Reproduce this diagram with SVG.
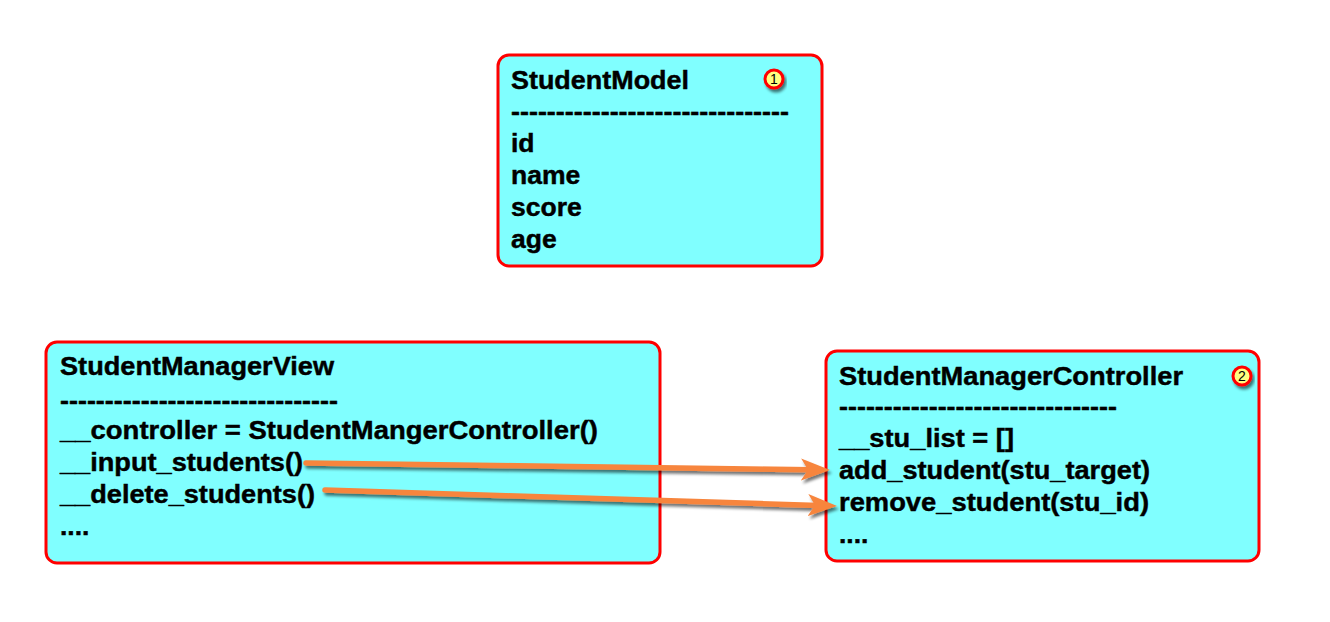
<svg xmlns="http://www.w3.org/2000/svg" width="1330" height="622" viewBox="0 0 1330 622">
<defs>
<style>
.box{fill:#80FFFF;stroke:#FF0000;stroke-width:3}
.t{font-family:"Liberation Sans",Arial,sans-serif;font-weight:bold;font-size:26.5px;fill:#000;stroke:#000;stroke-width:0.45}
.badge{fill:#FFFF80;stroke:#FF0000;stroke-width:3}
.bn{font-family:"Liberation Sans",Arial,sans-serif;font-size:14px;fill:#000;text-anchor:middle}
.arr{stroke:#F7853D;stroke-width:5.5;fill:none;stroke-linecap:round}
</style>
<filter id="sh" x="-20%" y="-50%" width="140%" height="200%">
<feGaussianBlur in="SourceAlpha" stdDeviation="1.8"/>
<feOffset dx="2" dy="3" result="b"/>
<feComponentTransfer><feFuncA type="linear" slope="0.55"/></feComponentTransfer>
<feMerge><feMergeNode/><feMergeNode in="SourceGraphic"/></feMerge>
</filter>
<marker id="ah" markerUnits="userSpaceOnUse" markerWidth="30" markerHeight="24" refX="10" refY="11" orient="auto" viewBox="0 0 30 22">
<path d="M0,0 L29,11 L0,22 L7,11 Z" fill="#F7853D"/>
</marker>
</defs>
<rect width="1330" height="622" fill="#FFFFFF"/>

<g id="StudentModel">
<rect class="box" x="498" y="55" width="324" height="211" rx="11"/>
<text class="t" x="511" y="89" textLength="178" lengthAdjust="spacingAndGlyphs">StudentModel</text>
<text class="t" x="511" y="120" textLength="278" lengthAdjust="spacingAndGlyphs">-------------------------------</text>
<text class="t" x="511" y="152">id</text>
<text class="t" x="511" y="184">name</text>
<text class="t" x="511" y="216">score</text>
<text class="t" x="511" y="248">age</text>
<g filter="url(#sh)"><circle class="badge" cx="774" cy="79" r="9"/></g>
<text class="bn" x="774" y="84">1</text>
</g>

<g id="StudentManagerView">
<rect class="box" x="46" y="342" width="614" height="221" rx="11"/>
<text class="t" x="60" y="375" textLength="274" lengthAdjust="spacingAndGlyphs">StudentManagerView</text>
<text class="t" x="60" y="409" textLength="278" lengthAdjust="spacingAndGlyphs">-------------------------------</text>
<text class="t" x="60" y="439" textLength="538" lengthAdjust="spacingAndGlyphs">__controller = StudentMangerController()</text>
<text class="t" x="60" y="471" textLength="243" lengthAdjust="spacingAndGlyphs">__input_students()</text>
<text class="t" x="60" y="503" textLength="255" lengthAdjust="spacingAndGlyphs">__delete_students()</text>
<text class="t" x="60" y="535">....</text>
</g>

<g id="StudentManagerController">
<rect class="box" x="826" y="351" width="433" height="210" rx="11"/>
<text class="t" x="839" y="385" textLength="344" lengthAdjust="spacingAndGlyphs">StudentManagerController</text>
<text class="t" x="839" y="415" textLength="278" lengthAdjust="spacingAndGlyphs">-------------------------------</text>
<text class="t" x="839" y="447" textLength="175" lengthAdjust="spacingAndGlyphs">__stu_list = []</text>
<text class="t" x="839" y="479" textLength="311" lengthAdjust="spacingAndGlyphs">add_student(stu_target)</text>
<text class="t" x="839" y="511" textLength="310" lengthAdjust="spacingAndGlyphs">remove_student(stu_id)</text>
<text class="t" x="839" y="543">....</text>
<g filter="url(#sh)"><circle class="badge" cx="1242" cy="376" r="9"/></g>
<text class="bn" x="1242" y="381">2</text>
</g>

<g id="connectors" filter="url(#sh)">
<line class="arr" x1="306" y1="463" x2="811" y2="469.7" marker-end="url(#ah)"/>
<line class="arr" x1="325" y1="490" x2="818" y2="505.4" marker-end="url(#ah)"/>
</g>
</svg>
